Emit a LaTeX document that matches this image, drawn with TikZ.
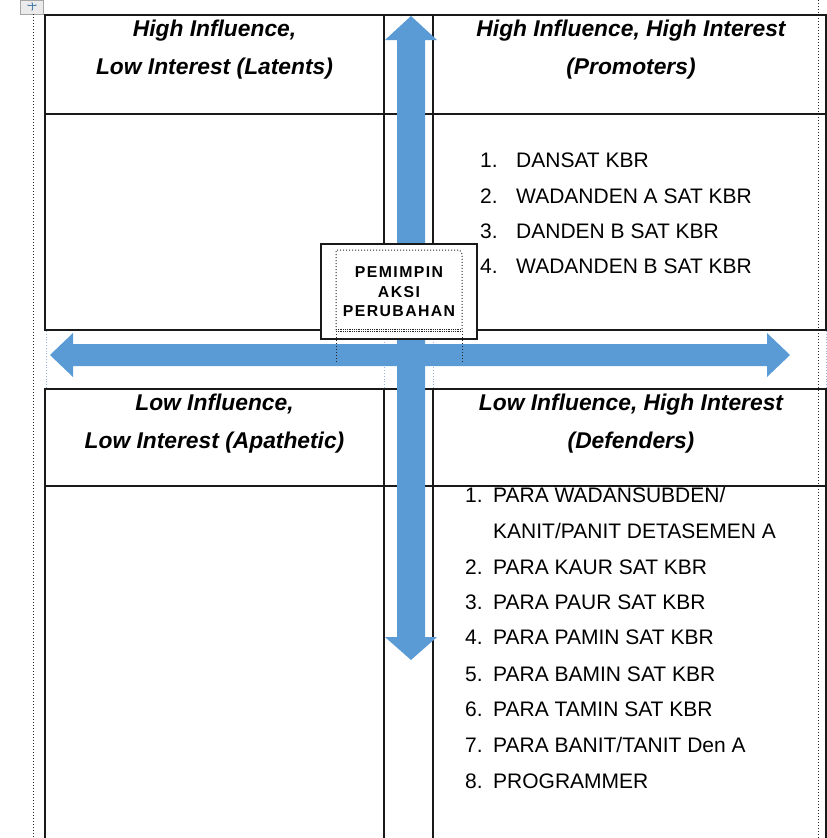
\documentclass[tikz,border=0pt]{standalone}
\usepackage{fontspec}
\setmainfont{Liberation Sans}
\usetikzlibrary{arrows.meta}
\definecolor{arrowblue}{RGB}{91,155,213}
\definecolor{faintblue}{RGB}{150,180,220}
\definecolor{gridline}{RGB}{25,25,25}
\begin{document}
\begin{tikzpicture}[x=1pt,y=-1pt,
  tbl/.style={draw=gridline,line width=1.4pt},
  guide/.style={draw=black!85,dotted,line width=1pt},
  faint/.style={draw=faintblue,dotted,line width=0.8pt},
  hdr/.style={anchor=base,inner sep=0pt,font=\fontsize{22.8}{27}\selectfont\bfseries\itshape},
  num/.style={anchor=base west,inner sep=0pt,font=\fontsize{21}{24}\selectfont},
  itm/.style={anchor=base west,inner sep=0pt,font=\fontsize{21}{24}\selectfont},
  boxtxt/.style={align=center,inner sep=0pt,font=\fontsize{15.8}{19.5}\selectfont\bfseries\addfontfeature{LetterSpace=9}}]
\useasboundingbox (0,0) rectangle (827,838);
\fill[white] (0,0) rectangle (827,838);

% table move handle
\draw[draw=black!35,fill=black!8,line width=0.5pt] (20,0.5) rectangle (43,14);
\draw[arrowblue!80!black,line width=0.6pt,{Stealth[length=1.5pt]}-{Stealth[length=1.5pt]}] (27,5) -- (37,5);
\draw[arrowblue!80!black,line width=0.6pt,{Stealth[length=1.5pt]}-{Stealth[length=1.5pt]}] (32,2) -- (32,11);

% page guides
\draw[guide] (33,14) -- (33,838);
\draw[guide] (818,0) -- (818,838);

% faint gridlines in gap
\foreach \gx in {46,384,433,826} \draw[faint] (\gx,331) -- (\gx,388);

% top table
\draw[tbl] (45,15) rectangle (826,330);
\draw[tbl] (45,114) -- (826,114);
\draw[tbl] (384,15) -- (384,330);
\draw[tbl] (433,15) -- (433,330);

% bottom table
\draw[tbl] (45,838) -- (45,389) -- (826,389) -- (826,838);
\draw[tbl] (384,389) -- (384,838);
\draw[tbl] (433,389) -- (433,838);

% list texts (bottom, first item is overlapped by the line)
\node[num] (b1n) at (465,502) {1.};
\node[itm] (b1) at (493,502) {PARA WADANSUBDEN/};
\node[itm] (b1b) at (493,538) {KANIT/PANIT DETASEMEN A};
\node[num] (b2n) at (465,574) {2.};
\node[itm] (b2) at (493,574) {PARA KAUR SAT KBR};
\node[num] (b3n) at (465,609) {3.};
\node[itm] (b3) at (493,609) {PARA PAUR SAT KBR};
\node[num] (b4n) at (465,644) {4.};
\node[itm] (b4) at (493,644) {PARA PAMIN SAT KBR};
\node[num] (b5n) at (465,681) {5.};
\node[itm] (b5) at (493,681) {PARA BAMIN SAT KBR};
\node[num] (b6n) at (465,716) {6.};
\node[itm] (b6) at (493,716) {PARA TAMIN SAT KBR};
\node[num] (b7n) at (465,752) {7.};
\node[itm] (b7) at (493,752) {PARA BANIT/TANIT Den A};
\node[num] (b8n) at (465,788) {8.};
\node[itm] (b8) at (493,788) {PROGRAMMER};
\draw[tbl] (45,486) -- (826,486);

% top list
\node[num] (t1n) at (480,167) {1.};
\node[itm] (t1) at (516,167) {DANSAT KBR};
\node[num] (t2n) at (480,203) {2.};
\node[itm] (t2) at (516,203) {WADANDEN A SAT KBR};
\node[num] (t3n) at (480,238) {3.};
\node[itm] (t3) at (516,238) {DANDEN B SAT KBR};
\node[num] (t4n) at (480,273) {4.};
\node[itm] (t4) at (516,273) {WADANDEN B SAT KBR};

% headers
\node[hdr] (tl1) at (214.5,36) {High Influence,};
\node[hdr] (tl2) at (214.5,74) {Low Interest (Latents)};
\node[hdr] (tr1) at (631,36) {High Influence, High Interest};
\node[hdr] (tr2) at (631,74) {(Promoters)};
\node[hdr] (bl1) at (214.5,410) {Low Influence,};
\node[hdr] (bl2) at (214.5,448) {Low Interest (Apathetic)};
\node[hdr] (br1) at (631,410) {Low Influence, High Interest};
\node[hdr] (br2) at (631,448) {(Defenders)};

% vertical double arrow
\fill[arrowblue] (411,16) -- (437,40) -- (425,40) -- (425,637) -- (437,637) -- (411,660)
  -- (385,637) -- (397,637) -- (397,40) -- (385,40) -- cycle;
% horizontal double arrow
\fill[arrowblue] (50,355) -- (73,333) -- (73,344) -- (767,344) -- (767,333) -- (790,355)
  -- (767,377) -- (767,366) -- (73,366) -- (73,377) -- cycle;

% central box
\draw[draw=gridline,fill=white,line width=1.4pt] (321,244) rectangle (477,339);
\draw[black!85,dotted,line width=1pt] (336,330) -- (336,250) -- (458,250) to[out=0,in=90] (462,254) -- (462,330);
\draw[black!85,densely dotted,line width=0.8pt] (336,329) -- (462,329);
\draw[black!85,densely dotted,line width=0.8pt] (336,331) -- (462,331);
\draw[black!85,dotted,line width=1pt] (336,331) -- (336,362);
\draw[black!85,dotted,line width=1pt] (462,331) -- (462,362);
\node[boxtxt] (lead) at (399,292) {PEMIMPIN\\AKSI\\PERUBAHAN};
\end{tikzpicture}
\end{document}
